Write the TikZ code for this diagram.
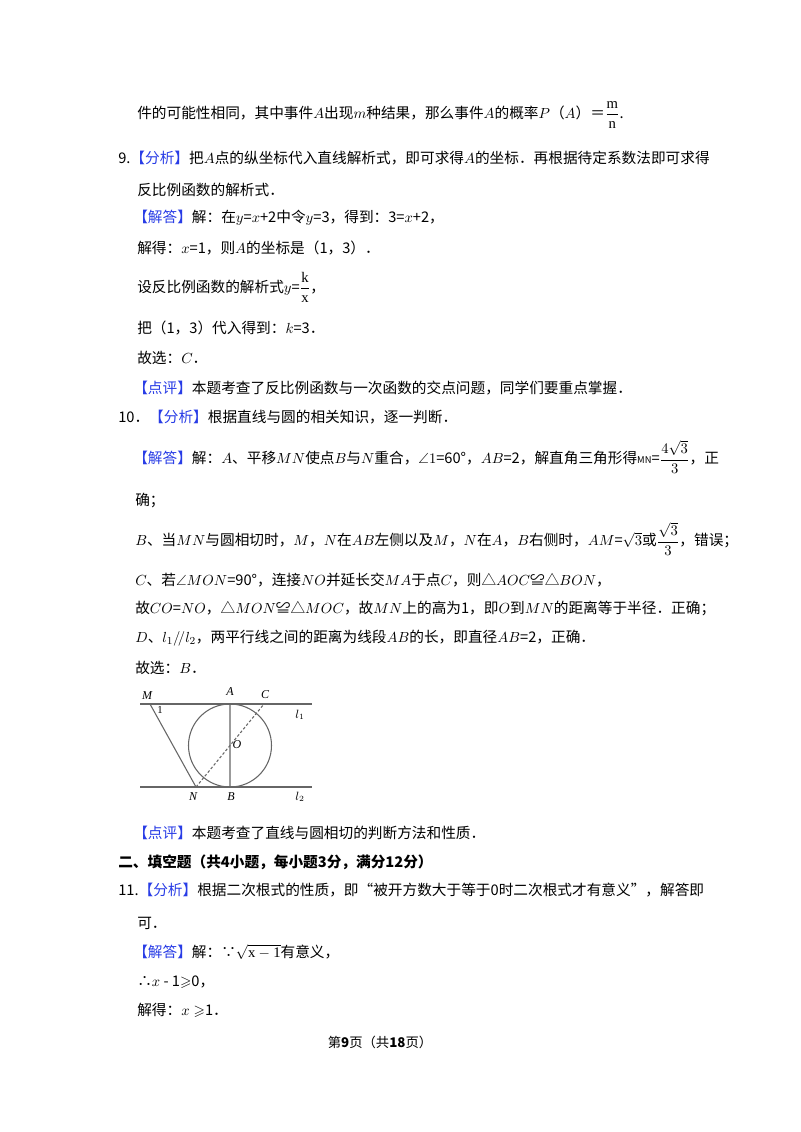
\documentclass[tikz,border=0pt]{standalone}
\usepackage{amsmath,amssymb}
\usepackage{fontspec}
\setmainfont{Liberation Serif}
\newfontfamily\cjk{Noto Sans CJK SC}
\definecolor{bl}{RGB}{40,60,230}
\tikzset{tx/.style={anchor=west,inner sep=0pt,font=\cjk\fontsize{11}{13}\selectfont}}
\newcommand\bk[1]{\textcolor{bl}{【#1】}}
\begin{document}
\begin{tikzpicture}[x=0.75pt,y=-0.75pt]
\useasboundingbox[fill=white] (0,0) rectangle (800,1132);
\node[tx] (l1) at (137,115) {件的可能性相同，其中事件$A$出现$m$种结果，那么事件$A$的概率$P$（$A$）＝$\dfrac{\mathrm{m}}{\mathrm{n}}$.};
\node[tx] (l2) at (118,158) {9.\bk{分析}把$A$点的纵坐标代入直线解析式，即可求得$A$的坐标．再根据待定系数法即可求得};
\node[tx] (l3) at (137,190) {反比例函数的解析式．};
\node[tx] (l4) at (133,218) {\bk{解答}解：在$y$=$x$+2中令$y$=3，得到：3=$x$+2，};
\node[tx] (l5) at (137,248) {解得：$x$=1，则$A$的坐标是（1，3）．};
\node[tx] (l6) at (137,287) {设反比例函数的解析式$y$=$\dfrac{\mathrm{k}}{\mathrm{x}}$，};
\node[tx] (l7) at (137,328) {把（1，3）代入得到：$k$=3．};
\node[tx] (l8) at (137,358) {故选：$C$．};
\node[tx] (l9) at (133,388) {\bk{点评}本题考查了反比例函数与一次函数的交点问题，同学们要重点掌握．};
\node[tx] (l10) at (118,417) {10．\bk{分析}根据直线与圆的相关知识，逐一判断．};
\node[tx] (l11) at (133,457) {\bk{解答}解：$A$、平移$MN$使点$B$与$N$重合，$\angle1$=60°，$AB$=2，解直角三角形得{\scriptsize MN}=$\dfrac{4\sqrt3}{3}$，正};
\node[tx] (l12) at (135,500) {确；};
\node[tx] (l13) at (135,539) {$B$、当$MN$与圆相切时，$M$，$N$在$AB$左侧以及$M$，$N$在$A$，$B$右侧时，$AM$=$\sqrt3$或$\dfrac{\sqrt3}{3}$，错误；};
\node[tx] (l14) at (135,580) {$C$、若$\angle MON$=90°，连接$NO$并延长交$MA$于点$C$，则△$AOC$≌△$BON$，};
\node[tx] (l15) at (135,608) {故$CO$=$NO$，△$MON$≌△$MOC$，故$MN$上的高为1，即$O$到$MN$的距离等于半径．正确；};
\node[tx] (l16) at (135,638) {$D$、$l_1/\!/l_2$，两平行线之间的距离为线段$AB$的长，即直径$AB$=2，正确．};
\node[tx] (l17) at (135,668) {故选：$B$．};
% diagram
\coordinate (L1a) at (140,704); \coordinate (L1b) at (312,704);
\coordinate (L2a) at (140,787); \coordinate (L2b) at (312,787);
\coordinate (O) at (230,745.5); \coordinate (A) at (230,704); \coordinate (B) at (230,787);
\coordinate (M) at (150,704); \coordinate (N) at (196,787); \coordinate (C) at (264,704);
\draw[gray!80!black,line width=0.9pt] (L1a)--(L1b) (L2a)--(L2b);
\draw[gray!80!black,line width=0.8pt] (O) circle[radius=41.5];
\draw[gray!80!black,line width=0.8pt] (A)--(B) (M)--(N);
\draw[gray!80!black,line width=0.8pt,dashed,dash pattern=on 2pt off 1.5pt] (N)--(C);
\tikzset{lb/.style={inner sep=0pt,font=\fontsize{9}{10}\selectfont\itshape}}
\node[lb] (tM) at (147,696) {M};
\node[lb,font=\fontsize{8}{9}\selectfont] (t1) at (160,710) {1};
\node[lb] (tA) at (230,692) {A};
\node[lb] (tC) at (265,695) {C};
\node[lb] (tO) at (237,745) {O};
\node[lb] (tN) at (193,797) {N};
\node[lb] (tB) at (231,797) {B};
\node[lb] (tl1) at (300,715) {$l_1$};
\node[lb] (tl2) at (300,797) {$l_2$};
% rest
\node[tx] (l18) at (133,833) {\bk{点评}本题考查了直线与圆相切的判断方法和性质．};
\node[tx,font=\cjk\bfseries\fontsize{11}{13}\selectfont] (l19) at (118,862) {二、填空题（共4小题，每小题3分，满分12分）};
\node[tx] (l20) at (118,890) {11.\bk{分析}根据二次根式的性质，即“被开方数大于等于0时二次根式才有意义”，解答即};
\node[tx] (l21) at (137,923) {可．};
\node[tx] (l22) at (133,952) {\bk{解答}解：∵$\sqrt{\mathrm{x-1}}$有意义，};
\node[tx] (l23) at (137,982) {∴$x$ - 1$\geqslant$0，};
\node[tx] (l24) at (137,1010) {解得：$x\geqslant$1．};
\node[tx,anchor=center,font=\cjk\fontsize{10}{12}\selectfont] (ft) at (380,1042) {第\textbf{9}页（共\textbf{18}页）};
\end{tikzpicture}
\end{document}
